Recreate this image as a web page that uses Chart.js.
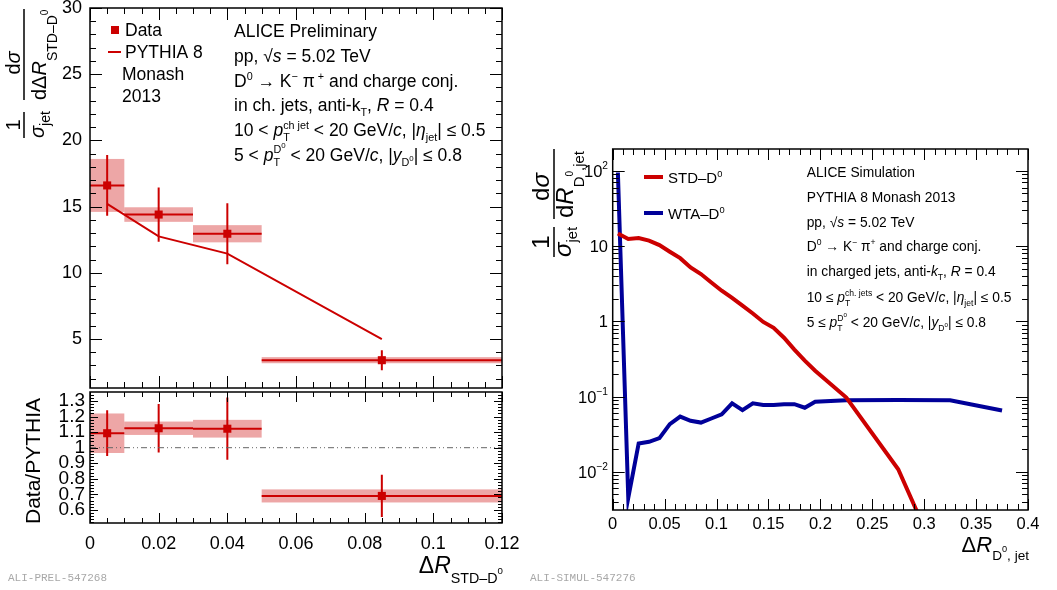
<!DOCTYPE html>
<html>
<head>
<meta charset="utf-8">
<script src="https://cdn.jsdelivr.net/npm/chart.js@4.4.1/dist/chart.umd.min.js"></script>
<style>
  html, body { margin: 0; padding: 0; background: #fff; }
  body { width: 1057px; height: 590px; position: relative; overflow: hidden; }
  canvas { position: absolute; }
</style>
</head>
<body>
<canvas id="dist" width="520" height="390" style="left:0;top:0"></canvas>
<canvas id="ratio" width="520" height="200" style="left:0;top:390px"></canvas>
<canvas id="sim" width="537" height="460" style="left:520px;top:130px"></canvas>
<script>
const FONT = '"Liberation Sans", Arial, Helvetica, sans-serif';
const MONO = '"Liberation Mono", "DejaVu Sans Mono", monospace';
const RED = '#cc0000';
const BOX = 'rgba(204,0,0,0.35)';
const BLUE = '#000099';

// measured STD-D0 distance, 4 bins
const binLow = [0, 0.01, 0.03, 0.05];
const binHigh = [0.01, 0.03, 0.05, 0.12];
const binCentre = [0.005, 0.02, 0.04, 0.085];
const dataValue = [16.6, 14.4, 12.95, 3.4];
const dataStat = [2.3, 2.05, 2.3, 0.75];
const dataSyst = [2.0, 0.55, 0.65, 0.23];
const pythiaValue = [15.2, 12.75, 11.45, 5.0];

// data / PYTHIA
const ratioValue = [1.093, 1.125, 1.122, 0.69];
const ratioStat = [0.147, 0.156, 0.2, 0.136];
const ratioSyst = [0.127, 0.043, 0.057, 0.042];
const unityR = [0, 0.12];
const unityValue = [1, 1];

// PYTHIA simulation, D0-jet axis distance
const simR = [0.005, 0.015, 0.025, 0.035, 0.045, 0.055, 0.065, 0.075, 0.085, 0.095,
              0.105, 0.115, 0.125, 0.135, 0.145, 0.155, 0.165, 0.175, 0.185, 0.195,
              0.225, 0.275, 0.325, 0.375];
const stdValue = [14.7, 12.4, 12.8, 11.8, 10.3, 8.4, 6.9, 5.2, 4.25, 3.28,
                  2.55, 2.04, 1.61, 1.27, 0.98, 0.82, 0.605, 0.42, 0.30, 0.22,
                  0.097, 0.0108, 0.0003];
const wtaValue = [95, 0.0045, 0.0238, 0.025, 0.028, 0.043, 0.054, 0.0475, 0.045, 0.051,
                  0.058, 0.081, 0.066, 0.081, 0.077, 0.077, 0.079, 0.079, 0.071, 0.085,
                  0.0895, 0.090, 0.089, 0.065];

// axis ticks
const distYTicks = [5, 10, 15, 20, 25, 30];
const ratioYTicks = [0.6, 0.7, 0.8, 0.9, 1, 1.1, 1.2, 1.3];
const distXTicks = [0, 0.02, 0.04, 0.06, 0.08, 0.1, 0.12];
const simXTicks = [0, 0.05, 0.1, 0.15, 0.2, 0.25, 0.3, 0.35, 0.4];
const simYDecades = [0.01, 0.1, 1, 10, 100];
const simYLabels = [['10', '\u22122'], ['10', '\u22121'], ['1', ''], ['10', ''], ['10', '2']];

// text styles: size factor, baseline shift (em), italic
const STY = {
  n: { s: 1, dy: 0 },
  i: { s: 1, dy: 0, it: true },
  u: { s: 0.62, dy: -0.42 },
  d: { s: 0.62, dy: 0.3 },
  uu: { s: 0.45, dy: -0.72 },
  du: { s: 0.45, dy: 0.05 }
};

// draws a list of pieces [text, style]; {up, dn} stacks super/subscripts
function rich(ctx, x, y, size, parts, draw = true) {
  let cx = x;
  for (const p of parts) {
    if (!Array.isArray(p)) {
      const a = rich(ctx, cx, y, size, p.up, draw);
      const b = rich(ctx, cx, y, size, p.dn, draw);
      cx = Math.max(a, b);
      continue;
    }
    const st = typeof p[1] === 'string' ? STY[p[1]] : p[1];
    ctx.font = (st.it ? 'italic ' : '') + (size * st.s).toFixed(1) + 'px ' + FONT;
    if (draw) ctx.fillText(p[0], cx, y + st.dy * size);
    cx += ctx.measureText(p[0]).width;
  }
  return cx;
}
function richW(ctx, size, parts) { return rich(ctx, 0, 0, size, parts, false); }

function tickList(lo, hi, step, every, majLen, minLen) {
  const out = [];
  const n0 = Math.ceil(lo / step - 1e-9), n1 = Math.floor(hi / step + 1e-9);
  for (let k = n0; k <= n1; k++) out.push([k * step, k % every === 0 ? majLen : minLen]);
  return out;
}
function logTickList(lo, hi, majLen, minLen) {
  const out = [];
  for (let e = -4; e <= 3; e++) {
    for (let m = 1; m <= 9; m++) {
      const v = m * Math.pow(10, e);
      if (v >= lo && v <= hi) out.push([v, m === 1 ? majLen : minLen]);
    }
  }
  return out;
}

// box frame with inward ticks on all four sides
function framePlugin(xTicks, yTicks) {
  return {
    id: 'frame',
    afterDraw(chart) {
      const { ctx, chartArea: a, scales: { x, y } } = chart;
      ctx.save();
      ctx.strokeStyle = '#000';
      ctx.lineWidth = 1;
      ctx.beginPath();
      for (const [v, len] of xTicks) {
        const px = Math.round(x.getPixelForValue(v)) + 0.5;
        ctx.moveTo(px, a.bottom); ctx.lineTo(px, a.bottom - len);
        ctx.moveTo(px, a.top); ctx.lineTo(px, a.top + len);
      }
      for (const [v, len] of yTicks) {
        const py = Math.round(y.getPixelForValue(v)) + 0.5;
        ctx.moveTo(a.left, py); ctx.lineTo(a.left + len, py);
        ctx.moveTo(a.right, py); ctx.lineTo(a.right - len, py);
      }
      ctx.stroke();
      ctx.lineWidth = 1.5;
      ctx.strokeRect(a.left, a.top, a.right - a.left, a.bottom - a.top);
      ctx.restore();
    }
  };
}

// systematic boxes, bin widths and statistical error bars
function errorPlugin(values, stat, syst) {
  return {
    id: 'errors',
    beforeDatasetsDraw(chart) {
      const { ctx, chartArea: a, scales: { x, y } } = chart;
      ctx.save();
      ctx.beginPath();
      ctx.rect(a.left, a.top, a.right - a.left, a.bottom - a.top);
      ctx.clip();
      ctx.fillStyle = BOX;
      values.forEach((v, i) => {
        const x0 = x.getPixelForValue(binLow[i]), x1 = x.getPixelForValue(binHigh[i]);
        const y0 = y.getPixelForValue(v + syst[i]), y1 = y.getPixelForValue(v - syst[i]);
        ctx.fillRect(x0, y0, x1 - x0, y1 - y0);
      });
      ctx.strokeStyle = RED;
      ctx.lineWidth = 2;
      ctx.beginPath();
      values.forEach((v, i) => {
        const xc = x.getPixelForValue(binCentre[i]), yc = y.getPixelForValue(v);
        ctx.moveTo(x.getPixelForValue(binLow[i]), yc);
        ctx.lineTo(x.getPixelForValue(binHigh[i]), yc);
        ctx.moveTo(xc, y.getPixelForValue(v + stat[i]));
        ctx.lineTo(xc, y.getPixelForValue(v - stat[i]));
      });
      ctx.stroke();
      ctx.restore();
    }
  };
}

function textPlugin(ox, oy, fn) {
  return {
    id: 'texts',
    afterDraw(chart) {
      const ctx = chart.ctx;
      ctx.save();
      ctx.translate(-ox, -oy);
      ctx.fillStyle = '#000';
      ctx.textBaseline = 'alphabetic';
      ctx.textAlign = 'left';
      fn(ctx, chart);
      ctx.restore();
    }
  };
}

// rotated text helper: u runs upwards along the screen, v to the right
function rotated(ctx, x, y, fn) {
  ctx.save();
  ctx.translate(x, y);
  ctx.rotate(-Math.PI / 2);
  fn();
  ctx.restore();
}

// fixed axis size, and no extra room reserved for edge labels
function fixSize(w, h) {
  return s => {
    if (w !== null) s.width = w;
    if (h !== null) s.height = h;
    s.paddingTop = 0; s.paddingBottom = 0; s.paddingLeft = 0; s.paddingRight = 0;
  };
}

const fmt = v => String(parseFloat(Number(v).toFixed(3)));
const noGrid = { display: false, drawTicks: false };
const tickFont = size => ({ size: size, family: FONT });

// ---- upper left: distribution ----
new Chart(document.getElementById('dist'), {
  type: 'scatter',
  data: {
    datasets: [
      {
        type: 'line',
        label: 'PYTHIA 8 Monash 2013',
        data: binCentre.map((r, i) => ({ x: r, y: pythiaValue[i] })),
        borderColor: RED,
        borderWidth: 2,
        pointRadius: 0,
        tension: 0,
        fill: false
      },
      {
        label: 'Data',
        data: binCentre.map((r, i) => ({ x: r, y: dataValue[i] })),
        pointStyle: 'rect',
        pointRadius: 5.7,
        backgroundColor: RED,
        borderWidth: 0
      }
    ]
  },
  options: {
    responsive: false,
    animation: false,
    devicePixelRatio: 1,
    layout: { autoPadding: false, padding: { left: 0, top: 8, right: 18, bottom: 2 } },
    plugins: { legend: { display: false }, tooltip: { enabled: false } },
    scales: {
      x: { type: 'linear', min: 0, max: 0.12, display: false },
      y: {
        type: 'linear', min: 1.3, max: 30,
        grid: noGrid, border: { display: false },
        afterBuildTicks: s => { s.ticks = distYTicks.map(v => ({ value: v })); },
        ticks: { font: tickFont(18), color: '#000', padding: 8 },
        afterFit: fixSize(90, null)
      }
    }
  },
  plugins: [
    errorPlugin(dataValue, dataStat, dataSyst),
    framePlugin(tickList(0, 0.12, 0.005, 4, 12, 6), tickList(2, 30, 1, 5, 12, 6)),
    textPlugin(0, 0, ctx => {
      // legend
      ctx.fillStyle = RED;
      ctx.fillRect(111, 26, 8, 8);
      ctx.strokeStyle = RED;
      ctx.lineWidth = 2;
      ctx.beginPath(); ctx.moveTo(108, 52); ctx.lineTo(121, 52); ctx.stroke();
      ctx.fillStyle = '#000';
      const ls = 17.5;
      rich(ctx, 125, 36, ls, [['Data', 'n']]);
      rich(ctx, 125, 58, ls, [['PYTHIA 8', 'n']]);
      rich(ctx, 122, 80, ls, [['Monash', 'n']]);
      rich(ctx, 122, 102, ls, [['2013', 'n']]);

      // run conditions
      const tx = 234;
      rich(ctx, tx, 37, ls, [['ALICE Preliminary', 'n']]);
      rich(ctx, tx, 61.5, ls, [['pp, \u221A', 'n'], ['s', 'i'], [' = 5.02 TeV', 'n']]);
      rich(ctx, tx, 87, ls, [['D', 'n'], ['0', 'u'], [' \u2192 K', 'n'], ['\u2212', 'u'], [' \u03C0', 'n'], [' +', 'u'], [' and charge conj.', 'n']]);
      rich(ctx, tx, 111, ls, [['in ch. jets, anti-k', 'n'], ['T', 'd'], [', ', 'n'], ['R', 'i'], [' = 0.4', 'n']]);
      rich(ctx, tx, 136, ls, [['10 < ', 'n'], ['p', 'i'], { up: [['ch jet', 'u']], dn: [['T', 'd']] },
        [' < 20 GeV/', 'n'], ['c', 'i'], [', |', 'n'], ['\u03B7', 'i'], ['jet', 'd'], ['| \u2264 0.5', 'n']]);
      rich(ctx, tx, 160.5, ls, [['5 < ', 'n'], ['p', 'i'], { up: [['D', 'u'], ['0', 'uu']], dn: [['T', 'd']] },
        [' < 20 GeV/', 'n'], ['c', 'i'], [', |', 'n'], ['y', 'i'], ['D', 'd'], ['0', 'du'], ['| \u2264 0.8', 'n']]);

      // y title
      rotated(ctx, 24, 140, () => {
        const fs = 20;
        ctx.strokeStyle = '#000';
        ctx.lineWidth = 1.5;
        ctx.beginPath();
        ctx.moveTo(2, 0); ctx.lineTo(28, 0);
        ctx.moveTo(40, 0); ctx.lineTo(131, 0);
        ctx.stroke();
        const w1 = richW(ctx, fs, [['1', 'n']]);
        rich(ctx, 15 - w1 / 2, -4, fs, [['1', 'n']]);
        rich(ctx, 2, 20, fs, [['\u03C3', 'i'], ['jet', { s: 0.7, dy: 0.3 }]]);
        const w2 = richW(ctx, fs, [['d', 'n'], ['\u03C3', 'i']]);
        rich(ctx, 77 - w2 / 2, -4, fs, [['d', 'n'], ['\u03C3', 'i']]);
        rich(ctx, 40, 22, fs, [['d\u0394', 'n'], ['R', 'i'], ['STD\u2013D', { s: 0.7, dy: 0.55 }], ['0', { s: 0.5, dy: 0.12 }]]);
      });
    })
  ]
});

// ---- lower left: ratio ----
new Chart(document.getElementById('ratio'), {
  type: 'scatter',
  data: {
    datasets: [
      {
        type: 'line',
        label: 'unity',
        data: unityR.map((r, i) => ({ x: r, y: unityValue[i] })),
        borderColor: '#666',
        borderWidth: 1,
        borderDash: [6, 3, 1, 3, 1, 3],
        pointRadius: 0,
        fill: false
      },
      {
        label: 'Data/PYTHIA',
        data: binCentre.map((r, i) => ({ x: r, y: ratioValue[i] })),
        pointStyle: 'rect',
        pointRadius: 5.7,
        backgroundColor: RED,
        borderWidth: 0
      }
    ]
  },
  options: {
    responsive: false,
    animation: false,
    devicePixelRatio: 1,
    layout: { autoPadding: false, padding: { left: 0, top: 2, right: 18, bottom: 0 } },
    plugins: { legend: { display: false }, tooltip: { enabled: false } },
    scales: {
      x: {
        type: 'linear', min: 0, max: 0.12,
        grid: noGrid, border: { display: false },
        afterBuildTicks: s => { s.ticks = distXTicks.map(v => ({ value: v })); },
        ticks: { font: tickFont(18), color: '#000', padding: 10, maxRotation: 0, autoSkip: false, callback: v => fmt(v) },
        afterFit: fixSize(null, 67)
      },
      y: {
        type: 'linear', min: 0.516, max: 1.358,
        grid: noGrid, border: { display: false },
        afterBuildTicks: s => { s.ticks = ratioYTicks.map(v => ({ value: v })); },
        ticks: { font: tickFont(19), color: '#000', padding: 5, autoSkip: false, callback: v => fmt(v) },
        afterFit: fixSize(90, null)
      }
    }
  },
  plugins: [
    errorPlugin(ratioValue, ratioStat, ratioSyst),
    framePlugin(tickList(0, 0.12, 0.005, 4, 10, 5), tickList(0.52, 1.35, 0.02, 5, 8, 4)),
    textPlugin(0, 390, ctx => {
      rotated(ctx, 40, 461, () => {
        const w = richW(ctx, 21, [['Data/PYTHIA', 'n']]);
        rich(ctx, -w / 2, 0, 21, [['Data/PYTHIA', 'n']]);
      });
      const title = [['\u0394', 'n'], ['R', 'i'], ['STD\u2013D', { s: 0.62, dy: 0.43 }], ['0', { s: 0.42, dy: 0.05 }]];
      const w = richW(ctx, 23, title);
      rich(ctx, 503 - w, 573, 23, title);
      ctx.fillStyle = '#a8a8a8';
      ctx.font = '11px ' + MONO;
      ctx.fillText('ALI-PREL-547268', 8, 581);
    })
  ]
});

// ---- right: simulation ----
new Chart(document.getElementById('sim'), {
  type: 'line',
  data: {
    datasets: [
      {
        label: 'STD\u2013D0',
        data: stdValue.map((v, i) => ({ x: simR[i], y: v })),
        borderColor: RED,
        borderWidth: 4,
        pointRadius: 0,
        fill: false
      },
      {
        label: 'WTA\u2013D0',
        data: wtaValue.map((v, i) => ({ x: simR[i], y: v })),
        borderColor: BLUE,
        borderWidth: 4,
        pointRadius: 0,
        fill: false
      }
    ]
  },
  options: {
    responsive: false,
    animation: false,
    devicePixelRatio: 1,
    layout: { autoPadding: false, padding: { left: 0, top: 19, right: 29, bottom: 0 } },
    plugins: { legend: { display: false }, tooltip: { enabled: false } },
    scales: {
      x: {
        type: 'linear', min: 0, max: 0.4,
        grid: noGrid, border: { display: false },
        afterBuildTicks: s => { s.ticks = simXTicks.map(v => ({ value: v })); },
        ticks: { font: tickFont(16.5), color: '#000', padding: 5, maxRotation: 0, autoSkip: false, callback: v => fmt(v) },
        afterFit: fixSize(null, 80)
      },
      y: {
        type: 'logarithmic', min: 0.0031, max: 195,
        grid: noGrid, border: { display: false },
        ticks: { display: false },
        afterFit: fixSize(92.7, null)
      }
    }
  },
  plugins: [
    framePlugin(tickList(0, 0.4, 0.01, 5, 11, 6), logTickList(0.0031, 195, 12, 6)),
    textPlugin(520, 130, (ctx, chart) => {
      const y = chart.scales.y;
      // decade labels
      simYDecades.forEach((v, i) => {
        const [base, exp] = simYLabels[i];
        const parts = exp ? [[base, 'n'], [exp, { s: 0.62, dy: -0.45 }]] : [[base, 'n']];
        const w = richW(ctx, 16.5, parts);
        rich(ctx, 608 - w, y.getPixelForValue(v) + 130 + 6, 16.5, parts);
      });

      // legend
      ctx.lineWidth = 4;
      ctx.strokeStyle = RED;
      ctx.beginPath(); ctx.moveTo(644, 177); ctx.lineTo(663, 177); ctx.stroke();
      ctx.strokeStyle = BLUE;
      ctx.beginPath(); ctx.moveTo(644, 213); ctx.lineTo(663, 213); ctx.stroke();
      rich(ctx, 668, 183, 15, [['STD\u2013D', 'n'], ['0', 'u']]);
      rich(ctx, 668, 219, 15, [['WTA\u2013D', 'n'], ['0', 'u']]);

      // run conditions
      const tx = 806.7, fs = 13.8;
      rich(ctx, tx, 176.7, fs, [['ALICE Simulation', 'n']]);
      rich(ctx, tx, 202, fs, [['PYTHIA 8 Monash 2013', 'n']]);
      rich(ctx, tx, 226.5, fs, [['pp, \u221A', 'n'], ['s', 'i'], [' = 5.02 TeV', 'n']]);
      rich(ctx, tx, 251, fs, [['D', 'n'], ['0', 'u'], [' \u2192 K', 'n'], ['\u2212', 'u'], [' \u03C0', 'n'], ['+', 'u'], [' and charge conj.', 'n']]);
      rich(ctx, tx, 276, fs, [['in charged jets, anti-', 'n'], ['k', 'i'], ['T', 'd'], [', ', 'n'], ['R', 'i'], [' = 0.4', 'n']]);
      rich(ctx, tx, 301.5, fs, [['10 \u2264 ', 'n'], ['p', 'i'], { up: [['ch. jets', 'u']], dn: [['T', 'd']] },
        [' < 20 GeV/', 'n'], ['c', 'i'], [', |', 'n'], ['\u03B7', 'i'], ['jet', 'd'], ['| \u2264 0.5', 'n']]);
      rich(ctx, tx, 326.5, fs, [['5 \u2264 ', 'n'], ['p', 'i'], { up: [['D', 'u'], ['0', 'uu']], dn: [['T', 'd']] },
        [' < 20 GeV/', 'n'], ['c', 'i'], [', |', 'n'], ['y', 'i'], ['D', 'd'], ['0', 'du'], ['| \u2264 0.8', 'n']]);

      // axis titles
      const xt = [['\u0394', 'n'], ['R', 'i'], ['D', { s: 0.62, dy: 0.38 }], ['0', { s: 0.42, dy: 0.0 }], [', jet', { s: 0.62, dy: 0.38 }]];
      const w = richW(ctx, 22, xt);
      rich(ctx, 1029 - w, 552, 22, xt);

      rotated(ctx, 554, 263, () => {
        const fs2 = 24;
        ctx.strokeStyle = '#000';
        ctx.lineWidth = 1.5;
        ctx.beginPath();
        ctx.moveTo(6, 0); ctx.lineTo(36, 0);
        ctx.moveTo(44, 0); ctx.lineTo(114, 0);
        ctx.stroke();
        const w1 = richW(ctx, fs2, [['1', 'n']]);
        rich(ctx, 21 - w1 / 2, -5, fs2, [['1', 'n']]);
        rich(ctx, 6, 17, fs2, [['\u03C3', 'i'], ['jet', { s: 0.62, dy: 0.25 }]]);
        const w2 = richW(ctx, fs2, [['d', 'n'], ['\u03C3', 'i']]);
        rich(ctx, 76 - w2 / 2, -5, fs2, [['d', 'n'], ['\u03C3', 'i']]);
        rich(ctx, 45, 19, fs2, [['d', 'n'], ['R', 'i'], ['D', { s: 0.62, dy: 0.45 }], ['0', { s: 0.42, dy: 0.0 }], [',jet', { s: 0.62, dy: 0.45 }]]);
      });

      ctx.fillStyle = '#a8a8a8';
      ctx.font = '11px ' + MONO;
      ctx.fillText('ALI-SIMUL-547276', 530, 581);
    })
  ]
});
</script>
</body>
</html>
